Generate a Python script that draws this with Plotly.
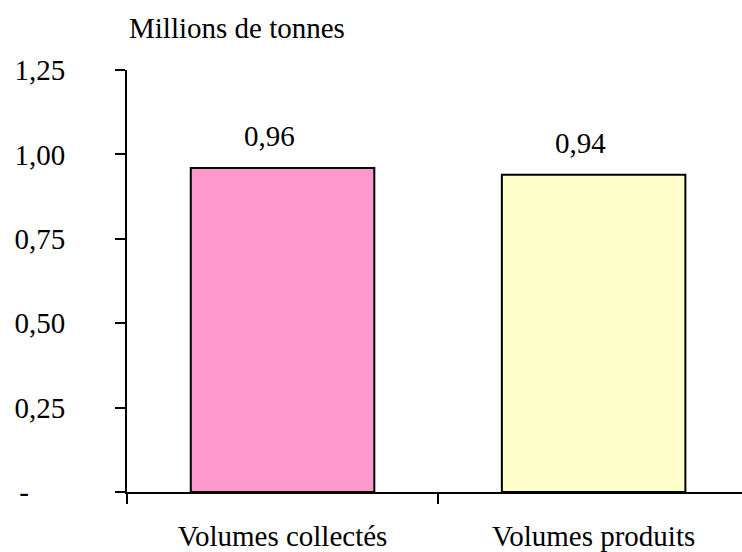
import plotly.graph_objects as go

categories = ["Volumes collectés", "Volumes produits"]
values = [0.96, 0.94]
value_labels = ["0,96", "0,94"]
bar_colors = ["#FF99CC", "#FFFFCC"]
y_tickvals = [0, 0.25, 0.5, 0.75, 1.0, 1.25]
y_ticktext = ["-" + "\u00a0" * 5, "0,25", "0,50", "0,75", "1,00", "1,25"]
unit_label = "Millions de tonnes"

FONT = "Liberation Serif"
FS = 29

fig = go.Figure()
fig.add_trace(go.Bar(
    x=categories, y=values, width=0.59,
    marker=dict(color=bar_colors, line=dict(color="black", width=2)),
    hoverinfo="skip",
))

for c, v, t in zip(categories, values, value_labels):
    fig.add_annotation(x=c, y=v, text=t, showarrow=False, yanchor="bottom",
                       yshift=14, xshift=-13, font=dict(size=FS, color="black", family=FONT))

fig.add_annotation(xref="paper", yref="paper", x=0, y=1, xanchor="left", yanchor="middle",
                   xshift=0, yshift=42, text=unit_label, showarrow=False,
                   font=dict(size=FS, color="black", family=FONT))

fig.update_layout(
    width=742, height=552,
    margin=dict(l=127, r=0, t=70, b=60),
    paper_bgcolor="white", plot_bgcolor="white",
    showlegend=False,
    font=dict(family=FONT, size=FS, color="black"),
    xaxis=dict(range=[-0.5, 1.477], showline=True, linecolor="black", linewidth=2,
               ticks="outside", ticklen=10, tickwidth=2, tickcolor="black",
               tickson="boundaries", showgrid=False, zeroline=False,
               ticklabelstandoff=17, fixedrange=True),
    yaxis=dict(range=[0, 1.25], tickvals=y_tickvals, ticktext=y_ticktext,
               showline=True, linecolor="black", linewidth=2,
               ticks="outside", ticklen=10, tickwidth=2, tickcolor="black",
               showgrid=False, zeroline=False, ticklabelstandoff=44, fixedrange=True),
)

fig.write_html("out.html", config={"displayModeBar": False},
               post_script="document.body.style.margin='0';")
